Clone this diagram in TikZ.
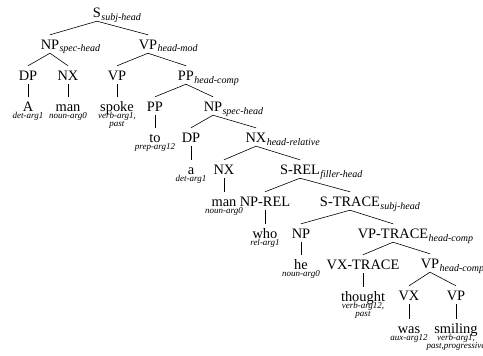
\documentclass[tikz,border=0pt]{standalone}
\usepackage{fontspec}
\setmainfont{Liberation Serif}
\begin{document}
\begin{tikzpicture}[x=1pt,y=-1pt,
  cat/.style={font=\fontsize{14.4}{16}\selectfont, inner xsep=0pt, inner ysep=4pt, text height=10pt, text depth=0pt, anchor=base},
  sub/.style={font=\fontsize{10}{11}\selectfont\itshape, inner sep=0pt, anchor=base west},
  tag/.style={font=\fontsize{9}{9}\selectfont\itshape, inner sep=0pt, anchor=base},
  edge/.style={line width=0.6pt}]
\useasboundingbox (0,0) rectangle (483,356);
\clip (0,0) rectangle (483,356);
% level 0
\node[cat] (S) at (97,17) {S};
\node[sub] (Ss) at ([yshift=-3pt]S.base east) {subj-head};
% level 1
\node[cat] (NP1) at (50,49) {NP};
\node[sub] (NP1s) at ([yshift=-3pt]NP1.base east) {spec-head};
\node[cat] (VP1) at (148,49) {VP};
\node[sub] (VP1s) at ([yshift=-3pt]VP1.base east) {head-mod};
% level 2
\node[cat] (DP1) at (28,80) {DP};
\node[cat] (NX1) at (68,80) {NX};
\node[cat] (VP2) at (117,80) {VP};
\node[cat] (PP1) at (186,80) {PP};
\node[sub] (PP1s) at ([yshift=-3pt]PP1.base east) {head-comp};
% level 3
\node[cat] (A) at (28,111) {A};
\node[tag] (At) at ([yshift=-7.5pt]A.base) {det-arg1};
\node[cat] (man1) at (68,111) {man};
\node[tag] (man1t) at ([yshift=-7.5pt]man1.base) {noun-arg0};
\node[cat] (spoke) at (117,111) {spoke};
\node[tag] (spoket) at ([yshift=-7.5pt]spoke.base) {verb-arg1,};
\node[tag] (spoket2) at ([yshift=-15pt]spoke.base) {past};
\node[cat] (PP2) at (155,111) {PP};
\node[cat] (NP2) at (213,111) {NP};
\node[sub] (NP2s) at ([yshift=-3pt]NP2.base east) {spec-head};
% level 4
\node[cat] (to) at (155,142) {to};
\node[tag] (tot) at ([yshift=-7.5pt]to.base) {prep-arg12};
\node[cat] (DP2) at (191,142) {DP};
\node[cat] (NX2) at (256,142) {NX};
\node[sub] (NX2s) at ([yshift=-3pt]NX2.base east) {head-relative};
% level 5
\node[cat] (a) at (191,174) {a};
\node[tag] (at) at ([yshift=-7.5pt]a.base) {det-arg1};
\node[cat] (NX3) at (224,174) {NX};
\node[cat] (SREL) at (300,174) {S-REL};
\node[sub] (SRELs) at ([yshift=-3pt]SREL.base east) {filler-head};
% level 6
\node[cat] (man2) at (224,206) {man};
\node[tag] (man2t) at ([yshift=-7.5pt]man2.base) {noun-arg0};
\node[cat] (NPREL) at (265,206) {NP-REL};
\node[cat] (STRACE) at (350,206) {S-TRACE};
\node[sub] (STRACEs) at ([yshift=-3pt]STRACE.base east) {subj-head};
% level 7
\node[cat] (who) at (265,238) {who};
\node[tag] (whot) at ([yshift=-7.5pt]who.base) {rel-arg1};
\node[cat] (NP3) at (301,238) {NP};
\node[cat] (VPTRACE) at (393,238) {VP-TRACE};
\node[sub] (VPTRACEs) at ([yshift=-3pt]VPTRACE.base east) {head-comp};
% level 8
\node[cat] (he) at (301,269) {he};
\node[tag] (het) at ([yshift=-7.5pt]he.base) {noun-arg0};
\node[cat] (VXTRACE) at (363,269) {VX-TRACE};
\node[cat] (VP3) at (430,268) {VP};
\node[sub] (VP3s) at ([yshift=-3pt]VP3.base east) {head-comp};
% level 9
\node[cat] (thought) at (363,301) {thought};
\node[tag] (thoughtt) at ([yshift=-7.5pt]thought.base) {verb-arg12,};
\node[tag] (thoughtt2) at ([yshift=-15pt]thought.base) {past};
\node[cat] (VX) at (409,300) {VX};
\node[cat] (VP4) at (456,300) {VP};
% level 10
\node[cat] (was) at (409,333) {was};
\node[tag] (wast) at ([yshift=-7.5pt]was.base) {aux-arg12};
\node[cat] (smiling) at (456,333) {smiling};
\node[tag] (smilingt) at ([yshift=-7.5pt]smiling.base) {verb-arg1,};
\node[tag] (smilingt2) at ([yshift=-15pt]smiling.base) {past,progressive};
% edges
\foreach \p/\c in {S/NP1,S/VP1,NP1/DP1,NP1/NX1,VP1/VP2,VP1/PP1,DP1/A,NX1/man1,VP2/spoke,
  PP1/PP2,PP1/NP2,PP2/to,NP2/DP2,NP2/NX2,DP2/a,NX2/NX3,NX2/SREL,NX3/man2,SREL/NPREL,SREL/STRACE,
  NPREL/who,STRACE/NP3,STRACE/VPTRACE,NP3/he,VPTRACE/VXTRACE,VPTRACE/VP3,VXTRACE/thought,
  VP3/VX,VP3/VP4,VX/was,VP4/smiling}
  \draw[edge] (\p.south) -- (\c.north);
\end{tikzpicture}
\end{document}
